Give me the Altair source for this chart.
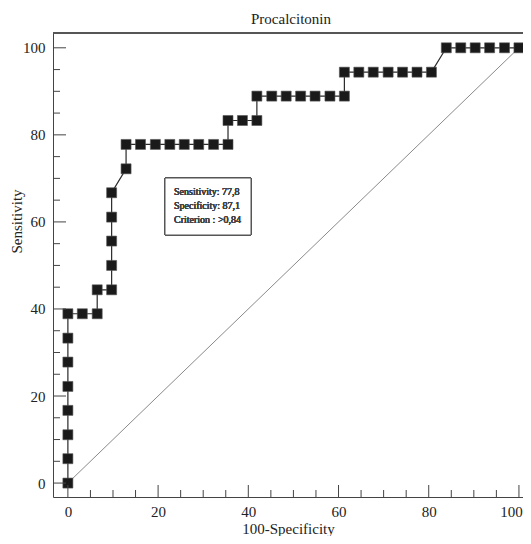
import altair as alt
import pandas as pd

# ROC points (100-Specificity, Sensitivity)
fpr = [0, 0, 0, 0, 0, 0, 0, 0,
       3.2, 6.5, 6.5,
       9.7, 9.7, 9.7, 9.7, 9.7,
       12.9, 12.9,
       16.1, 19.4, 22.6, 25.8, 29.0, 32.3, 35.5,
       35.5, 38.7, 41.9,
       41.9, 45.2, 48.4, 51.6, 54.8, 58.1, 61.3,
       61.3, 64.5, 67.7, 71.0, 74.2, 77.4, 80.6,
       83.9, 87.1, 90.3, 93.5, 96.8, 100]
sens = [0, 5.6, 11.1, 16.7, 22.2, 27.8, 33.3, 38.9,
        38.9, 38.9, 44.4,
        44.4, 50.0, 55.6, 61.1, 66.7,
        72.2, 77.8,
        77.8, 77.8, 77.8, 77.8, 77.8, 77.8, 77.8,
        83.3, 83.3, 83.3,
        88.9, 88.9, 88.9, 88.9, 88.9, 88.9, 88.9,
        94.4, 94.4, 94.4, 94.4, 94.4, 94.4, 94.4,
        100, 100, 100, 100, 100, 100]

diag_x = [0, 100]
diag_y = [0, 100]

major_ticks = [0, 20, 40, 60, 80, 100]
minor_ticks = [5, 10, 15, 25, 30, 35, 45, 50, 55, 65, 70, 75, 85, 90, 95]

legend_lines = ["Sensitivity: 77,8", "Specificity: 87,1", "Criterion : >0,84"]

W, H = 470, 464
FONT = "Liberation Serif"

roc = pd.DataFrame({"x": fpr, "y": sens, "i": list(range(len(fpr)))})
diag = pd.DataFrame({"x": diag_x, "y": diag_y})
maj = pd.DataFrame({"v": major_ticks})
mnr = pd.DataFrame({"v": minor_ticks})

xscale = alt.Scale(domain=[-3.3, 100.9], nice=False, zero=False)
yscale = alt.Scale(domain=[-3.2, 103.4], nice=False, zero=False)

xaxis = alt.Axis(values=major_ticks, ticks=False, grid=False, domainColor="#444",
                 labelFont=FONT, labelFontSize=15, labelColor="#222", labelPadding=7,
                 labelFlush=False, labelOverlap=False,
                 labelOffset=alt.condition("datum.value === 100", alt.value(-8), alt.value(0)),
                 titleFont=FONT, titleFontSize=15, titleFontWeight="normal",
                 titleColor="#222", titlePadding=2, titleX=235)
yaxis = alt.Axis(values=major_ticks, ticks=False, grid=False, domainColor="#444",
                 labelFont=FONT, labelFontSize=15, labelColor="#222", labelPadding=8,
                 titleFont=FONT, titleFontSize=15, titleFontWeight="normal",
                 titleColor="#222", titleX=-29, titleY=188)

base_x = alt.X("x:Q", scale=xscale, axis=xaxis, title="100-Specificity")
base_y = alt.Y("y:Q", scale=yscale, axis=yaxis, title="Sensitivity")

diag_layer = alt.Chart(diag).mark_line(color="#8a8a8a", strokeWidth=1).encode(
    x=base_x, y=base_y)

line_layer = alt.Chart(roc).mark_line(color="#2a2a2a", strokeWidth=1.2).encode(
    x="x:Q", y="y:Q", order="i:Q")

sq_layer = alt.Chart(roc).mark_square(size=100, color="#1a1a1a", opacity=1,
                                      stroke="#555", strokeWidth=0.6).encode(
    x="x:Q", y="y:Q")

xt_major = alt.Chart(maj).mark_rule(color="#444", strokeWidth=1).encode(
    x=alt.X("v:Q"), y=alt.value(H), y2=alt.value(H - 12))
xt_minor = alt.Chart(mnr).mark_rule(color="#444", strokeWidth=1).encode(
    x=alt.X("v:Q"), y=alt.value(H), y2=alt.value(H - 7))
yt_major = alt.Chart(maj).mark_rule(color="#444", strokeWidth=1).encode(
    y=alt.Y("v:Q"), x=alt.value(0), x2=alt.value(13))
yt_minor = alt.Chart(mnr).mark_rule(color="#444", strokeWidth=1).encode(
    y=alt.Y("v:Q"), x=alt.value(0), x2=alt.value(7))

top_border = alt.Chart(maj).mark_rule(color="#555", strokeWidth=1).encode(
    x=alt.value(0), x2=alt.value(W + 10), y=alt.value(0))

box = alt.Chart(maj).mark_rect(fill="white", stroke="#555", strokeWidth=1).encode(
    x=alt.value(112), x2=alt.value(198), y=alt.value(145), y2=alt.value(202))

box_text = alt.Chart(maj).mark_text(align="left", baseline="middle", font=FONT,
                                    fontSize=10, fontWeight="normal", color="#444",
                                    lineHeight=14).encode(
    x=alt.value(121), y=alt.value(159), text=alt.value(legend_lines))

chart = alt.layer(
    diag_layer, line_layer, sq_layer,
    xt_major, xt_minor, yt_major, yt_minor, top_border, box, box_text
).properties(
    width=W, height=H,
    title=alt.TitleParams("Procalcitonin", font=FONT, fontSize=15, fontWeight="normal",
                          color="#222", anchor="middle", offset=6, dx=3),
    autosize=alt.AutoSizeParams(type="none"),
    padding={"left": 45, "top": 25, "right": 0, "bottom": 39},
).configure_view(stroke=None).configure(background="white")

chart.save("out.html", embed_options={"renderer": "svg", "actions": False})
